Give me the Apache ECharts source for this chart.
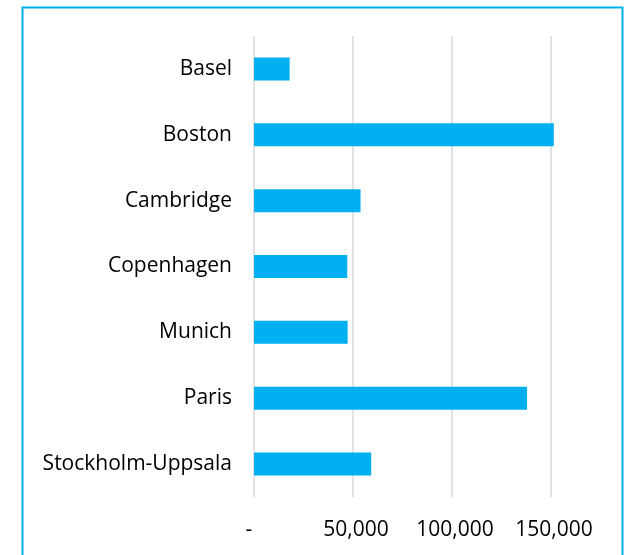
<!DOCTYPE html>
<html>
  <head>
    <meta charset="UTF-8" />
    <title></title>
    <style type="text/css">
      * {
        margin: 0;
        padding: 0;
      }
      #main {
        width: 626px;
        height: 555px;
        background-color: #fff;
      }
    </style>
  </head>
  <body>
    <div id="main"></div>
  </body>
  <script src="https://cdn.jsdelivr.net/npm/echarts@6/dist/echarts.min.js"></script>
  <script type="text/javascript">
    // 数据
    var cities = ['Basel', 'Boston', 'Cambridge', 'Copenhagen', 'Munich', 'Paris', 'Stockholm-Uppsala']
    var values = [18000, 151400, 53800, 47100, 47300, 137900, 59200]
    var ticks = [0, 50000, 100000, 150000]

    var myCharts = echarts.init(document.getElementById('main'))
    var option = {
      animation: false,
      textStyle: { fontFamily: 'Open Sans' },
      graphic: [
        {
          type: 'rect',
          shape: { x: 22.5, y: 7.5, width: 600, height: 600 },
          style: { fill: 'none', stroke: '#00b0f0', lineWidth: 2 }
        }
      ],
      grid: {
        left: 254,
        right: 75,
        top: 36,
        bottom: 58
      },
      xAxis: {
        type: 'value',
        min: ticks[0],
        max: ticks[ticks.length - 1],
        interval: 50000,
        axisLine: { show: false },
        axisTick: { show: false },
        splitLine: { lineStyle: { color: '#d9d9d9', width: 1.5 } },
        axisLabel: {
          margin: 23,
          color: '#000',
          fontSize: 21,
          fontFamily: 'Open Sans',
          formatter: function (v) {
            if (v === 0) return '{z|-}'
            return '{n|' + v.toLocaleString('en-US') + '}'
          },
          rich: {
            z: { fontSize: 21, color: '#000', fontFamily: 'Open Sans', padding: [0, 10, 0, 0] },
            n: { fontSize: 21, color: '#000', fontFamily: 'Open Sans', padding: [0, 0, 0, 6] }
          }
        }
      },
      yAxis: {
        type: 'category',
        inverse: true,
        data: cities,
        axisLine: { show: false },
        axisTick: { show: false },
        axisLabel: {
          margin: 22,
          color: '#000',
          fontSize: 21,
          fontFamily: 'Open Sans',
          padding: [4, 0, 0, 0]
        }
      },
      series: [
        {
          type: 'bar',
          data: values,
          barWidth: 23,
          clip: false,
          itemStyle: { color: '#00b0f0' }
        }
      ]
    }
    myCharts.setOption(option)
  </script>
</html>
